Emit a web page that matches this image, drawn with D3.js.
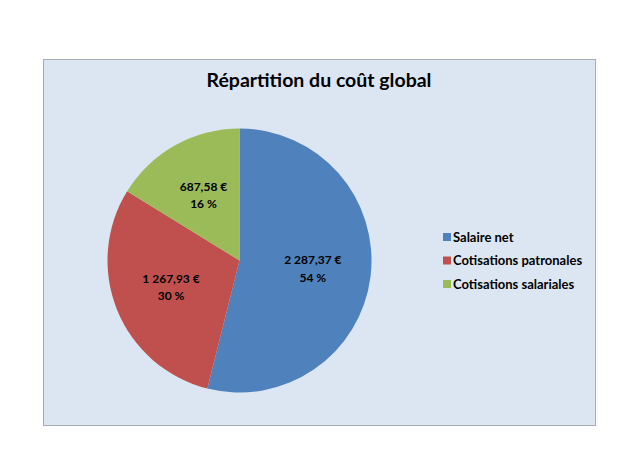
<!DOCTYPE html>
<html lang="fr">
<head>
    <meta charset="utf-8">
    <title>Répartition du coût global</title>
    <script src="https://d3js.org/d3.v7.min.js"></script>
    <style>
        body { margin: 0; background: #fff; }
        svg text { font-family: Lato, "Noto Sans", sans-serif; font-weight: bold; }
    </style>
</head>
<body>
<div id="chart"></div>
<script>
    // data
    const categories = ["Salaire net", "Cotisations patronales", "Cotisations salariales"];
    const amounts = [2287.37, 1267.93, 687.58];
    const amountLabels = ["2 287,37 €", "1 267,93 €", "687,58 €"];
    const colors = ["#4f81bd", "#c0504d", "#9bbb59"];

    const width = 640, height = 475;
    const box = {x: 43, y: 59, w: 552, h: 366};
    const cx = 239.5, cy = 260.5, radius = 132;

    const svg = d3.select("#chart").append("svg")
        .attr("width", width)
        .attr("height", height);

    svg.append("rect")
        .attr("x", box.x + 0.5).attr("y", box.y + 0.5)
        .attr("width", box.w).attr("height", box.h)
        .attr("fill", "#dce6f2")
        .attr("stroke", "#a6adb9")
        .attr("stroke-width", 1);

    svg.append("text")
        .attr("x", 319)
        .attr("y", 87)
        .attr("text-anchor", "middle")
        .attr("font-size", 19.5)
        .attr("fill", "#000")
        .text("Répartition du coût global");

    const total = d3.sum(amounts);
    const pie = d3.pie().sort(null).value(d => d)(amounts);
    const arc = d3.arc().innerRadius(0).outerRadius(radius);
    const labelArc = d3.arc().innerRadius(radius * 0.56).outerRadius(radius * 0.56);

    const g = svg.append("g").attr("transform", `translate(${cx},${cy})`);

    g.selectAll("path")
        .data(pie)
        .join("path")
        .attr("d", arc)
        .attr("fill", (d, i) => colors[i]);

    const labels = g.selectAll("text.lbl")
        .data(pie)
        .join("text")
        .attr("class", "lbl")
        .attr("text-anchor", "middle")
        .attr("font-size", 12)
        .attr("fill", "#000")
        .attr("transform", d => `translate(${labelArc.centroid(d)})`);

    labels.append("tspan")
        .attr("x", 0).attr("dy", "-0.45em")
        .text((d, i) => amountLabels[i]);
    labels.append("tspan")
        .attr("x", 0).attr("dy", "1.45em")
        .text(d => Math.round(d.value / total * 100) + " %");

    // legend
    const legend = svg.append("g").attr("transform", "translate(443,237)");
    const rows = legend.selectAll("g")
        .data(categories)
        .join("g")
        .attr("transform", (d, i) => `translate(0,${i * 23.5})`);
    rows.append("rect")
        .attr("x", 0).attr("y", -4)
        .attr("width", 8).attr("height", 8)
        .attr("fill", (d, i) => colors[i]);
    rows.append("text")
        .attr("x", 10).attr("y", 4.5)
        .attr("font-size", 13)
        .attr("fill", "#000")
        .text(d => d);
</script>
</body>
</html>
